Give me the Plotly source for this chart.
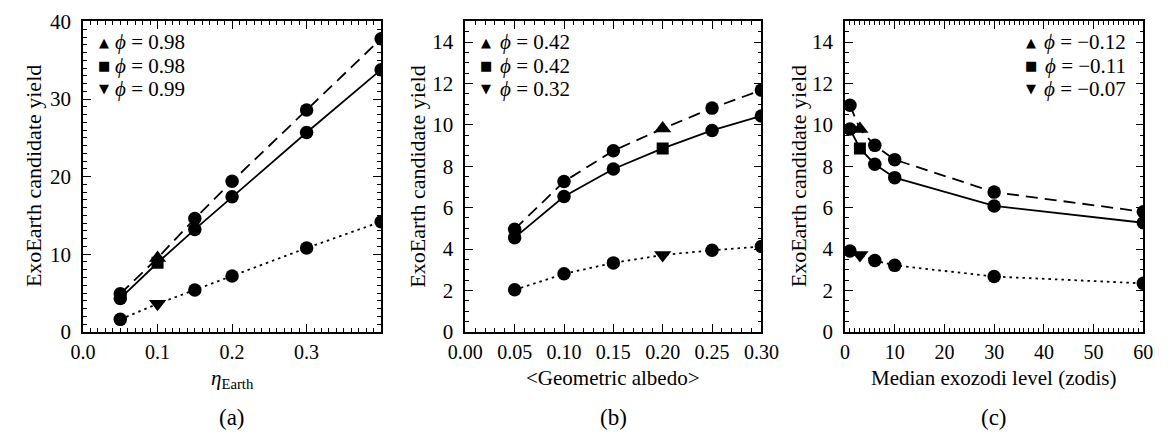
import plotly.graph_objects as go

# ---------------- data ----------------
eta_x = [0.05, 0.10, 0.15, 0.20, 0.30, 0.40]
eta_dashed = [4.9, 9.5, 14.6, 19.4, 28.6, 37.8]
eta_solid = [4.3, 8.9, 13.2, 17.4, 25.7, 33.8]
eta_dotted = [1.6, 3.6, 5.4, 7.2, 10.8, 14.2]
eta_base = 0.10

alb_x = [0.05, 0.10, 0.15, 0.20, 0.25, 0.30]
alb_dashed = [4.96, 7.26, 8.75, 9.82, 10.81, 11.68]
alb_solid = [4.55, 6.54, 7.87, 8.86, 9.73, 10.43]
alb_dotted = [2.03, 2.80, 3.33, 3.71, 3.94, 4.12]
alb_base = 0.20

zod_x = [1, 3, 6, 10, 30, 60]
zod_dashed = [10.95, 9.80, 9.01, 8.32, 6.75, 5.80]
zod_solid = [9.80, 8.86, 8.10, 7.45, 6.08, 5.27]
zod_dotted = [3.90, 3.71, 3.44, 3.21, 2.67, 2.34]
zod_base = 3

phi_a = ["0.98", "0.98", "0.99"]
phi_b = ["0.42", "0.42", "0.32"]
phi_c = ["\u22120.12", "\u22120.11", "\u22120.07"]
legend_glyphs = ["\u25b2", "\u25a0", "\u25bc"]

panel_labels = ["(a)", "(b)", "(c)"]
x_titles = ["<i>\u03b7</i><sub>Earth</sub>", "&lt;Geometric albedo&gt;", "Median exozodi level (zodis)"]
y_title = "ExoEarth candidate yield"

# ---------------- layout constants ----------------
W, H = 1173, 444
FONT = "Liberation Serif"
px_left = [68, 461.7, 852.7]
px_right = [375, 766.7, 1160]
py_top, py_bot = 11, 338.3

fig = go.Figure()

series_styles = [("12px,7px", "triangle-up", 15), ("solid", "square", 12), ("2.5px,4px", "triangle-down", 15)]

panels = [
    (eta_x, [eta_dashed, eta_solid, eta_dotted], eta_base),
    (alb_x, [alb_dashed, alb_solid, alb_dotted], alb_base),
    (zod_x, [zod_dashed, zod_solid, zod_dotted], zod_base),
]

for i, (xs, ys_list, base) in enumerate(panels):
    xa = "x" if i == 0 else f"x{i+1}"
    ya = "y" if i == 0 else f"y{i+1}"
    for (dash, sym, ssize), ys in zip(series_styles, ys_list):
        symbols = [sym if x == base else "circle" for x in xs]
        sizes = [ssize if x == base else 13.5 for x in xs]
        fig.add_trace(go.Scatter(
            x=xs, y=ys, mode="lines+markers", xaxis=xa, yaxis=ya,
            line=dict(color="black", width=1.8, dash=dash),
            marker=dict(color="black", symbol=symbols, size=sizes, opacity=1,
                        line=dict(width=0)),
            showlegend=False, cliponaxis=True,
        ))

axis_common = dict(
    showline=True, linecolor="black", linewidth=1.5, mirror="allticks",
    ticks="inside", ticklen=8, tickwidth=1.2, tickcolor="black",
    showgrid=False, zeroline=False, ticklabeloverflow="allow",
    tickfont=dict(family=FONT, size=21, color="black"),
)

minor_style = dict(ticks="inside", ticklen=4, tickcolor="black", tickwidth=1)
xcfg = [
    dict(range=[0, 0.4], tickvals=[0, 0.1, 0.2, 0.3], ticktext=["0.0", "0.1", "0.2", "0.3"],
         minor=dict(minor_style, dtick=0.01)),
    dict(range=[0, 0.3001], dtick=0.05, tickformat=".2f", minor=dict(minor_style, dtick=0.01)),
    dict(range=[0, 60.01], dtick=10, minor=dict(minor_style, dtick=1)),
]
ycfg = [
    dict(range=[0, 40.02], dtick=10, minor=dict(minor_style, dtick=1)),
    dict(range=[0, 15], dtick=2, minor=dict(minor_style, dtick=0.5)),
    dict(range=[0, 15], dtick=2, minor=dict(minor_style, dtick=0.5)),
]

layout = dict(
    width=W, height=H, margin=dict(l=0, r=0, t=0, b=0),
    paper_bgcolor="white", plot_bgcolor="white", showlegend=False,
    font=dict(family=FONT, size=21, color="black"),
)

ydom = [1 - py_bot / H, 1 - py_top / H]
for i in range(3):
    xk = "xaxis" if i == 0 else f"xaxis{i+1}"
    yk = "yaxis" if i == 0 else f"yaxis{i+1}"
    layout[xk] = dict(axis_common, **xcfg[i], domain=[px_left[i] / W, px_right[i] / W],
                      anchor="y" if i == 0 else f"y{i+1}", ticklabelstandoff=1,
                      tickfont=dict(family=FONT, size=20, color="black"))
    layout[yk] = dict(axis_common, **ycfg[i], domain=ydom, anchor="x" if i == 0 else f"x{i+1}",
                      ticklabelstandoff=6)

annotations = []
title_top = [373, 373, 373]
for i in range(3):
    cx = (px_left[i] + px_right[i]) / 2 / W
    annotations.append(dict(text=x_titles[i], x=cx, y=1 - title_top[i] / H, xref="paper", yref="paper",
                            showarrow=False, xanchor="center", yanchor="top", borderpad=0,
                            font=dict(family=FONT, size=21, color="black")))
    annotations.append(dict(text=panel_labels[i], x=cx, y=0, xref="paper", yref="paper",
                            showarrow=False, xanchor="center", yanchor="bottom",
                            font=dict(family=FONT, size=23, color="black")))
    ytx = [17, 413, 805][i]
    annotations.append(dict(text=y_title, x=ytx / W, y=(ydom[0] + ydom[1]) / 2, xref="paper", yref="paper",
                            showarrow=False, xanchor="center", yanchor="middle", textangle=-90,
                            font=dict(family=FONT, size=22, color="black")))

# legends (per panel): glyph annotation + text annotation per row
legend_rows_y = [33, 58, 82]
# (phis, glyph centre x, text x, text anchor)
legend_sets = [(phi_a, 90, 100, "left"), (phi_b, 483, 496, "left"), (phi_c, 1044, 1143, "right")]
for phis, gx, tx, anchor in legend_sets:
    for g, phi, ry in zip(legend_glyphs, phis, legend_rows_y):
        annotations.append(dict(text=g, x=gx / W, y=1 - ry / H, xref="paper", yref="paper",
                                showarrow=False, xanchor="center", yanchor="middle", borderpad=0,
                                font=dict(family="DejaVu Sans", size=13, color="black")))
        annotations.append(dict(text=f"<i>\u03d5</i> = {phi}", x=tx / W, y=1 - ry / H,
                                xref="paper", yref="paper", borderpad=0,
                                showarrow=False, xanchor=anchor, yanchor="middle",
                                font=dict(family=FONT, size=21, color="black")))
layout["annotations"] = annotations

fig.update_layout(**layout)
fig.write_html("out.html")
